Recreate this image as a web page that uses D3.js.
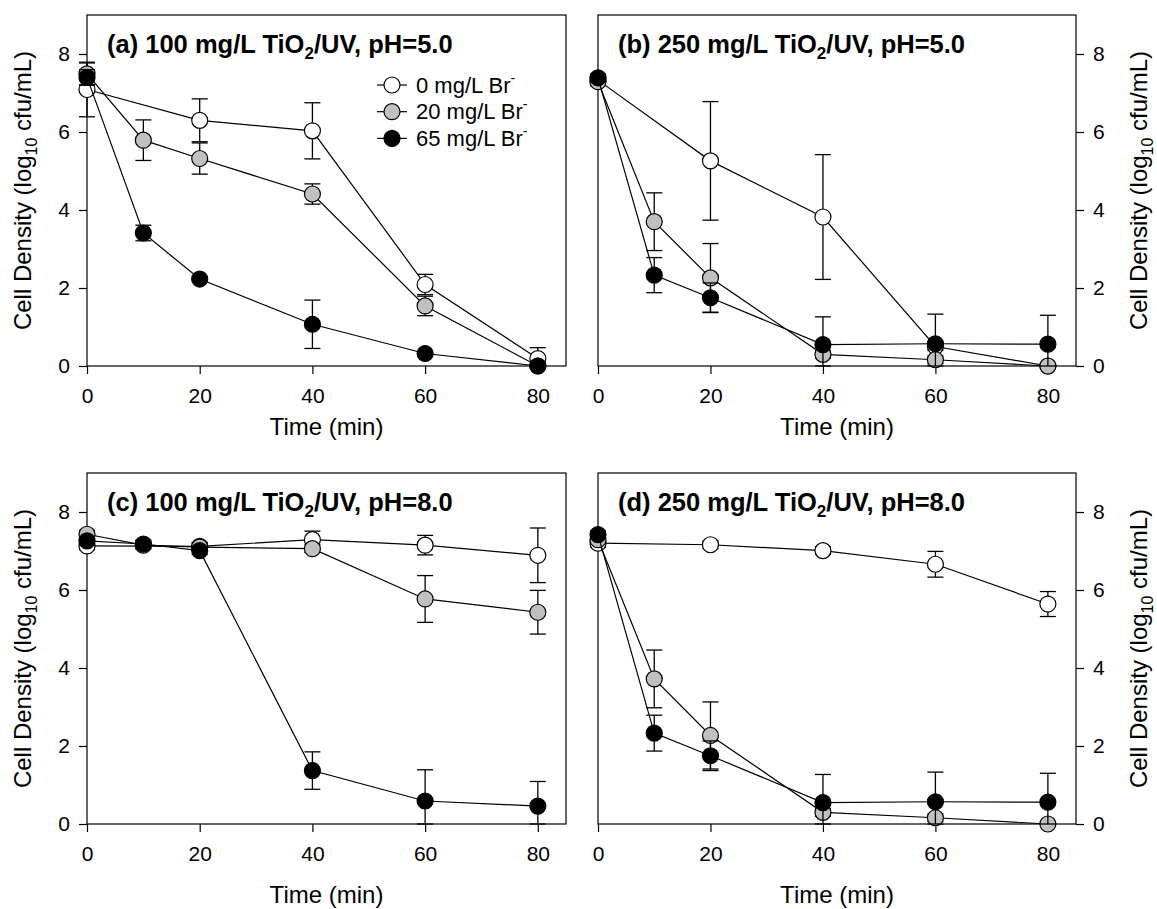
<!DOCTYPE html>
<html>
<head>
<meta charset="utf-8">
<script src="https://cdn.jsdelivr.net/npm/d3@7"></script>
<style>
  body { margin: 0; background: #fff; }
  svg text { font-family: "Liberation Sans", Arial, sans-serif; }
</style>
</head>
<body>
<script>
// time points (min), null = no measurement
const times = [0, 10, 20, 40, 60, 80];
const seriesNames = ["0 mg/L Br", "20 mg/L Br", "65 mg/L Br"];
const seriesFill = ["#ffffff", "#c0c0c0", "#000000"];
const xTicks = [0, 20, 40, 60, 80];
const yTicks = [0, 2, 4, 6, 8];

// (a) 100 mg/L, pH 5
const a0 = [7.09, null, 6.30, 6.03, 2.09, 0.19];
const a0err = [0.70, null, 0.55, 0.72, 0.26, 0.28];
const a20 = [7.49, 5.79, 5.32, 4.41, 1.54, 0.00];
const a20err = [0.28, 0.52, 0.40, 0.26, 0.25, 0];
const a65 = [7.40, 3.41, 2.23, 1.07, 0.32, 0.00];
const a65err = [0.20, 0.20, 0.05, 0.62, 0.05, 0];

// (b) 250 mg/L, pH 5
const b0 = [7.33, null, 5.26, 3.82, 0.50, 0.00];
const b0err = [0.10, null, 1.52, 1.60, 0.10, 0];
const b20 = [7.29, 3.70, 2.26, 0.30, 0.16, 0.00];
const b20err = [0.10, 0.74, 0.88, 0.10, 0.10, 0];
const b65 = [7.39, 2.33, 1.75, 0.55, 0.57, 0.56];
const b65err = [0.10, 0.45, 0.38, 0.71, 0.76, 0.74];

// (c) 100 mg/L, pH 8
const c0 = [7.13, null, 7.12, 7.29, 7.15, 6.89];
const c0err = [0.10, null, 0.10, 0.22, 0.25, 0.70];
const c20 = [7.43, 7.15, 7.10, 7.06, 5.77, 5.43];
const c20err = [0.10, 0.10, 0.10, 0.10, 0.60, 0.56];
const c65 = [7.26, 7.18, 7.01, 1.37, 0.59, 0.46];
const c65err = [0.10, 0.10, 0.10, 0.48, 0.80, 0.63];

// (d) 250 mg/L, pH 8
const d0 = [7.20, null, 7.16, 7.01, 6.66, 5.64];
const d0err = [0.10, null, 0.10, 0.10, 0.33, 0.32];
const d20 = [7.29, 3.72, 2.27, 0.30, 0.16, 0.00];
const d20err = [0.10, 0.74, 0.86, 0.10, 0.10, 0];
const d65 = [7.42, 2.33, 1.75, 0.55, 0.57, 0.56];
const d65err = [0.10, 0.46, 0.38, 0.72, 0.76, 0.74];

const width = 1157, height = 909;
const svg = d3.select("body").append("svg").attr("width", width).attr("height", height);

// layout of the 4 panels
const panels = [
  {label: "(a) 100 mg/L TiO", tail: "/UV, pH=5.0", left: 87, right: 566, top: 15, bottom: 366, side: "left",
   data: [[a0, a0err], [a20, a20err], [a65, a65err]], legend: true, titleGap: 69},
  {label: "(b) 250 mg/L TiO", tail: "/UV, pH=5.0", left: 598, right: 1076, top: 15, bottom: 366, side: "right",
   data: [[b0, b0err], [b20, b20err], [b65, b65err]], titleGap: 69},
  {label: "(c) 100 mg/L TiO", tail: "/UV, pH=8.0", left: 87, right: 566, top: 473, bottom: 824, side: "left",
   data: [[c0, c0err], [c20, c20err], [c65, c65err]], titleGap: 79},
  {label: "(d) 250 mg/L TiO", tail: "/UV, pH=8.0", left: 598, right: 1076, top: 473, bottom: 824, side: "right",
   data: [[d0, d0err], [d20, d20err], [d65, d65err]], titleGap: 79}
];

const r = 8, cap = 8;

panels.forEach(p => {
  const x = d3.scaleLinear().domain([0, 85]).range([p.left, p.right]);
  const y = d3.scaleLinear().domain([0, 9]).range([p.bottom, p.top]);
  const g = svg.append("g");

  // frame
  g.append("rect").attr("x", p.left).attr("y", p.top)
    .attr("width", p.right - p.left).attr("height", p.bottom - p.top)
    .attr("fill", "none").attr("stroke", "#000").attr("stroke-width", 1.2);

  // axes
  const xa = g.append("g").attr("transform", `translate(0,${p.bottom})`)
    .call(d3.axisBottom(x).tickValues(xTicks).tickSize(8).tickPadding(14));
  const yAxis = p.side === "left" ? d3.axisLeft(y) : d3.axisRight(y);
  const ya = g.append("g").attr("transform", `translate(${p.side === "left" ? p.left : p.right},0)`)
    .call(yAxis.tickValues(yTicks).tickSize(8).tickPadding(9));
  [xa, ya].forEach(a => {
    a.select(".domain").remove();
    a.selectAll("line").attr("stroke-width", 1.2);
    a.selectAll("text").attr("font-size", 21).attr("fill", "#000");
  });

  // axis titles
  g.append("text").attr("x", (p.left + p.right) / 2).attr("y", p.bottom + p.titleGap)
    .attr("text-anchor", "middle").attr("font-size", 24).text("Time (min)");
  const yt = g.append("text")
    .attr("transform", `translate(${p.side === "left" ? 31 : 1147},${(p.top + p.bottom) / 2}) rotate(-90)`)
    .attr("text-anchor", "middle").attr("font-size", 24);
  yt.append("tspan").text("Cell Density (log");
  yt.append("tspan").attr("font-size", 16).attr("dy", 6).text("10");
  yt.append("tspan").attr("dy", -6).text(" cfu/mL)");

  // panel title
  const tt = g.append("text").attr("x", p.left + 20).attr("y", p.top + 38)
    .attr("font-size", 25.5).attr("font-weight", "bold");
  tt.append("tspan").text(p.label);
  tt.append("tspan").attr("font-size", 17).attr("dy", 6).text("2");
  tt.append("tspan").attr("dy", -6).text(p.tail);

  // series: error bars, lines, markers
  p.data.forEach(([vals, errs], i) => {
    const pts = times.map((t, k) => ({t, v: vals[k], e: errs[k]})).filter(d => d.v !== null);
    const eb = g.append("g").attr("stroke", "#000").attr("stroke-width", 1.3);
    pts.filter(d => d.e > 0).forEach(d => {
      const hi = d.v + d.e, lo = Math.max(0, d.v - d.e);
      eb.append("line").attr("x1", x(d.t)).attr("x2", x(d.t)).attr("y1", y(hi)).attr("y2", y(lo));
      eb.append("line").attr("x1", x(d.t) - cap).attr("x2", x(d.t) + cap).attr("y1", y(hi)).attr("y2", y(hi));
      eb.append("line").attr("x1", x(d.t) - cap).attr("x2", x(d.t) + cap).attr("y1", y(lo)).attr("y2", y(lo));
    });
    g.append("path").datum(pts)
      .attr("d", d3.line().x(d => x(d.t)).y(d => y(d.v)))
      .attr("fill", "none").attr("stroke", "#000").attr("stroke-width", 1.2);
    g.append("g").selectAll("circle").data(pts).join("circle")
      .attr("cx", d => x(d.t)).attr("cy", d => y(d.v)).attr("r", r)
      .attr("fill", seriesFill[i]).attr("stroke", "#000").attr("stroke-width", 1.2);
  });

  // legend (panel a only)
  if (p.legend) {
    const lg = g.append("g");
    seriesNames.forEach((name, i) => {
      const cy = 85 + i * 26.7;
      lg.append("line").attr("x1", 377).attr("x2", 407).attr("y1", cy).attr("y2", cy)
        .attr("stroke", "#000").attr("stroke-width", 1.2);
      lg.append("circle").attr("cx", 392).attr("cy", cy).attr("r", r)
        .attr("fill", seriesFill[i]).attr("stroke", "#000").attr("stroke-width", 1.2);
      const t = lg.append("text").attr("x", 416).attr("y", cy + 7.5).attr("font-size", 22);
      t.append("tspan").text(name);
      t.append("tspan").attr("font-size", 14).attr("dy", -10).text("-");
    });
  }
});
</script>
</body>
</html>
